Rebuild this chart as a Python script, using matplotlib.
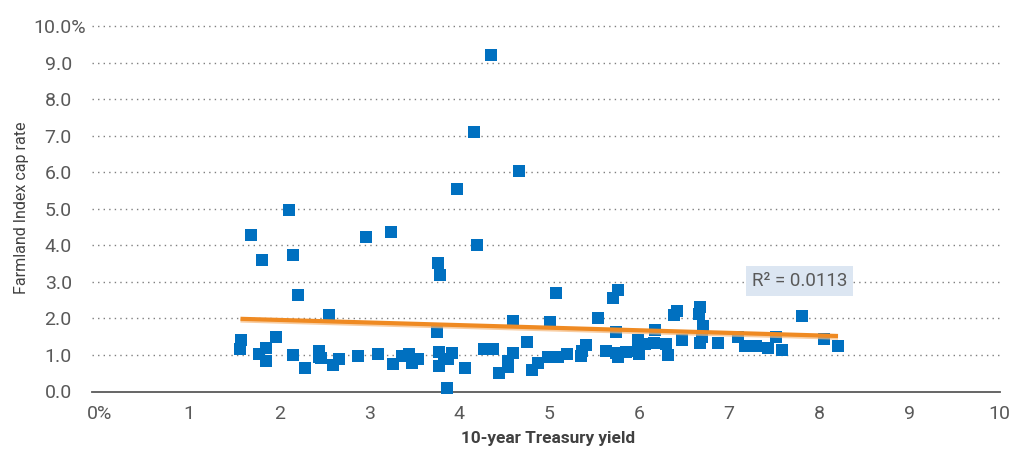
import numpy as np
import matplotlib
matplotlib.use("Agg")
import matplotlib.pyplot as plt
import matplotlib.patheffects as pe
from matplotlib import font_manager
from matplotlib.transforms import ScaledTranslation

names = {f.name for f in font_manager.fontManager.ttflist}
FAM = [n for n in ["Liberation Sans Narrow", "Roboto", "DejaVu Sans"] if n in names]
plt.rcParams["font.family"] = FAM

# 10-year Treasury yield (%)
treasury = [4.35, 4.17, 4.66, 3.98, 2.11, 1.69, 2.97, 3.24, 4.20, 1.81,
            2.15, 3.77, 3.79, 2.21, 2.55, 1.58, 1.57, 1.97, 1.85, 1.78,
            1.85, 2.15, 2.29, 2.44, 2.44, 2.47, 2.60, 2.66, 2.88, 3.10,
            3.26, 3.36, 3.44, 3.48, 3.54, 3.75, 3.78, 3.78, 3.83, 3.92,
            3.86, 3.88, 4.07, 4.28, 4.38, 4.44, 4.54, 4.54, 4.60, 4.60,
            4.75, 4.81, 4.88, 5.08, 5.76, 5.71, 5.01, 5.54, 4.99, 5.10,
            5.20, 5.35, 5.41, 5.36, 5.63, 5.74, 5.74, 5.77, 5.85, 5.99,
            5.99, 6.00, 6.06, 6.16, 6.18, 6.30, 6.32, 6.39, 6.42, 6.48,
            6.68, 6.66, 6.71, 6.70, 6.68, 6.88, 7.10, 7.18, 7.30, 7.43,
            7.52, 7.59, 7.81, 8.05, 8.21]
# Farmland Index cap rate (%)
cap_rate = [9.21, 7.10, 6.03, 5.54, 4.96, 4.28, 4.22, 4.36, 4.01, 3.59,
            3.73, 3.51, 3.18, 2.64, 2.10, 1.41, 1.16, 1.48, 1.18, 1.02,
            0.84, 0.99, 0.64, 1.12, 0.95, 0.93, 0.72, 0.88, 0.96, 1.02,
            0.75, 0.97, 1.02, 0.77, 0.88, 1.64, 1.09, 0.70, 0.89, 1.05,
            0.09, 0.88, 0.64, 1.16, 1.16, 0.50, 0.84, 0.68, 1.05, 1.93,
            1.35, 0.59, 0.77, 2.69, 2.78, 2.55, 1.91, 2.01, 0.94, 0.94,
            1.03, 0.97, 1.26, 1.12, 1.11, 1.62, 1.05, 0.95, 1.07, 1.41,
            1.11, 1.03, 1.30, 1.32, 1.68, 1.30, 1.00, 2.10, 2.21, 1.40,
            2.32, 2.12, 1.78, 1.50, 1.32, 1.32, 1.50, 1.25, 1.25, 1.18,
            1.48, 1.13, 2.06, 1.43, 1.24]

# Linear trend as shown in the chart (Excel trendline)
trend_intercept = 2.10
trend_slope = -0.0708

x_ticks = list(range(0, 11))
x_tick_labels = ["0%"] + [str(i) for i in range(1, 11)]
y_ticks = list(range(0, 11))
y_tick_labels = [f"{v:.1f}" for v in range(0, 10)] + ["10.0%"]
r2_text = "R\u00b2 = 0.0113"

W, H = 1023, 451
fig = plt.figure(figsize=(W / 100, H / 100), dpi=100)
ax = fig.add_axes([92 / W, 1 - 391.5 / H, (1000 - 92) / W, (391.5 - 26) / H])

x = np.array(treasury)
y = np.array(cap_rate)

ax.scatter(x, y, marker="s", s=8.0 ** 2, color="#0070C0", linewidths=0,
           zorder=3, clip_on=False)

xs = np.array([x.min(), x.max()])
ax.plot(xs, trend_intercept + trend_slope * xs, color="#EF8A22", lw=3.0, zorder=4,
        solid_capstyle="butt",
        path_effects=[pe.SimpleLineShadow(offset=(0, -1.2), shadow_color="#F6B87A", alpha=0.7),
                      pe.Normal()])

ax.text(7.78, 3.02, r2_text, ha="center", va="center", fontsize=13.5, color="#595959",
        bbox=dict(boxstyle="square,pad=0.3", facecolor="#DCE6F2", edgecolor="none"),
        zorder=5)

ax.set_xlim(-0.08, 10.01)
ax.set_ylim(0, 10)
ax.set_xticks(x_ticks)
ax.set_xticklabels(x_tick_labels)
ax.set_yticks(y_ticks)
ax.set_yticklabels(y_tick_labels)
ax.tick_params(axis="both", length=0, labelsize=14, labelcolor="#595959")
ax.tick_params(axis="x", pad=10)
ax.tick_params(axis="y", pad=14.5)

# shift the "10.0%" label so the numbers align on the decimal
lab = ax.get_yticklabels()[-1]
lab.set_transform(lab.get_transform() + ScaledTranslation(14 / 100, 0, fig.dpi_scale_trans))

for v in y_ticks[1:]:
    ax.axhline(v, color="#7F7F7F", lw=1.0, ls=(0, (1, 3)), zorder=1, clip_on=False)

for s in ["top", "right", "left"]:
    ax.spines[s].set_visible(False)
ax.spines["bottom"].set_color("#595959")
ax.spines["bottom"].set_linewidth(1.3)

ax.set_xlabel("10-year Treasury yield", fontsize=12.4, fontweight="bold", color="#404040")
ax.xaxis.set_label_coords(548 / W, 1 - 438 / H, transform=fig.transFigure)
ax.set_ylabel("Farmland Index cap rate", fontsize=11.5, color="#404040")
ax.yaxis.set_label_coords(22 / W, 1 - 208 / H, transform=fig.transFigure)
ax.xaxis.label.set_va("center")
ax.yaxis.label.set_va("center")

fig.savefig("out.png", dpi=100)
